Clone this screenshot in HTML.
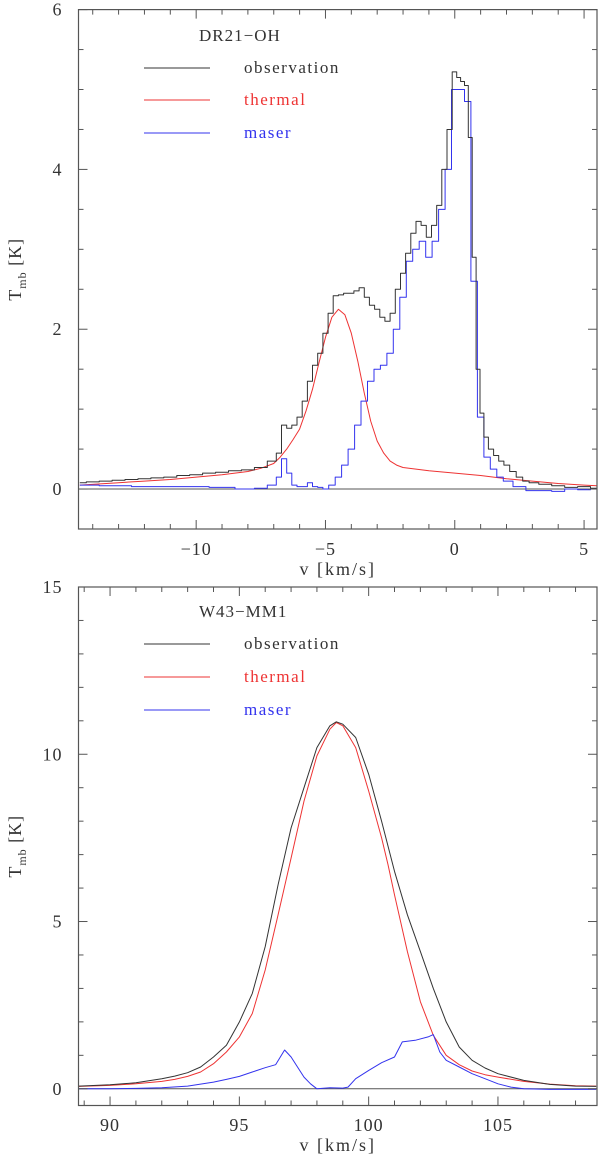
<!DOCTYPE html>
<html><head><meta charset="utf-8"><style>
html,body{margin:0;padding:0;background:#fff;}
svg{display:block;font-family:"Liberation Serif","DejaVu Serif",serif;}
</style></head><body>
<svg id="chart" width="600" height="1155" viewBox="0 0 600 1155" xmlns="http://www.w3.org/2000/svg"></svg>
<script>
// ---------- Top panel data (DR21-OH) ----------
const topObsV = [-14.5,-14,-13.5,-13,-12.5,-12,-11.5,-11,-10.5,-10,-9.5,-9,-8.5,-8,-7.5,-7,-6.8,-6.6,-6.4,-6.2,-6,-5.8,-5.6,-5.4,-5.2,-5,-4.8,-4.6,-4.4,-4.2,-4,-3.8,-3.6,-3.4,-3.2,-3,-2.8,-2.6,-2.4,-2.2,-2,-1.8,-1.6,-1.4,-1.2,-1,-0.8,-0.6,-0.4,-0.2,0,0.15,0.3,0.45,0.6,0.75,0.9,1.05,1.2,1.4,1.6,1.8,2,2.25,2.5,2.75,3,3.5,4,4.5,5,5.5];
const topObsT = [0.08,0.09,0.1,0.11,0.12,0.13,0.14,0.15,0.17,0.18,0.2,0.21,0.23,0.24,0.27,0.35,0.45,0.8,0.76,0.8,0.9,1.1,1.35,1.55,1.7,1.95,2.2,2.42,2.43,2.45,2.45,2.48,2.52,2.4,2.3,2.25,2.15,2.1,2.2,2.5,2.7,2.95,3.2,3.35,3.3,3.15,3.3,3.55,4.0,4.5,5.22,5.15,5.1,5.05,4.4,2.9,1.5,0.95,0.65,0.5,0.42,0.35,0.3,0.22,0.15,0.1,0.08,0.06,0.04,0.02,0.03,0.01];
const topThV = [-14.5,-13,-12,-11,-10,-9,-8,-7.5,-7,-6.75,-6.5,-6.25,-6,-5.75,-5.5,-5.25,-5,-4.75,-4.5,-4.25,-4,-3.75,-3.5,-3.25,-3,-2.75,-2.5,-2.25,-2,-1.5,-1,0,1,2,3,4,5,5.5];
const topThT = [0.05,0.08,0.1,0.12,0.15,0.18,0.22,0.26,0.32,0.4,0.5,0.62,0.75,0.98,1.25,1.58,1.9,2.15,2.25,2.18,1.95,1.6,1.2,0.85,0.6,0.45,0.35,0.3,0.27,0.25,0.23,0.2,0.17,0.13,0.1,0.07,0.05,0.04];
const topMasV = [-14.5,-13,-12,-11,-10,-9,-8,-7.5,-7,-6.8,-6.6,-6.4,-6.2,-6,-5.8,-5.6,-5.4,-5.2,-5,-4.75,-4.5,-4.25,-4,-3.75,-3.5,-3.25,-3,-2.75,-2.5,-2.25,-2,-1.75,-1.5,-1.25,-1,-0.75,-0.5,-0.25,0,0.25,0.5,0.75,1,1.25,1.5,1.75,2,2.5,3,3.5,4,4.5,5,5.5];
const topMasT = [0.05,0.04,0.03,0.03,0.03,0.02,0.0,0.01,0.05,0.15,0.38,0.2,0.05,0.03,0.03,0.08,0.03,0.02,0.0,0.05,0.15,0.3,0.5,0.8,1.1,1.35,1.5,1.55,1.7,2.0,2.4,2.85,3.0,3.1,2.9,3.1,3.5,4.0,5.0,5.0,4.85,2.6,0.9,0.4,0.25,0.15,0.1,0.03,-0.02,-0.02,-0.03,0.0,-0.01,0.0];
const topXTicks = [-10,-5,0,5];
const topYTicks = [0,2,4,6];

// ---------- Bottom panel data (W43-MM1) ----------
const botObsV = [88.8,90,91,91.5,92,92.5,93,93.5,94,94.5,95,95.5,96,96.5,97,97.5,98,98.5,98.75,99,99.5,100,100.5,101,101.5,102,102.5,103,103.5,104,104.5,105,106,107,108,108.8];
const botObsT = [0.08,0.12,0.18,0.24,0.3,0.38,0.48,0.65,0.95,1.3,2.0,2.85,4.25,6.1,7.8,9.0,10.2,10.85,10.97,10.9,10.5,9.4,8.0,6.5,5.2,4.1,3.0,2.0,1.25,0.85,0.62,0.45,0.25,0.13,0.08,0.07];
const botThV = [88.8,90,91,92,92.5,93,93.5,94,94.5,95,95.5,96,96.5,97,97.5,98,98.5,98.75,99,99.5,100,100.5,100.75,101,101.5,102,102.5,103,103.5,104,104.5,105,106,107,108,108.8];
const botThT = [0.07,0.1,0.15,0.22,0.28,0.37,0.5,0.75,1.1,1.55,2.25,3.55,5.2,6.9,8.6,9.95,10.75,10.95,10.85,10.2,8.9,7.5,6.7,5.8,4.1,2.6,1.6,1.0,0.72,0.53,0.42,0.35,0.22,0.14,0.09,0.08];
const botMasV = [88.8,90,91,92,93,94,94.5,95,95.5,96,96.4,96.75,97,97.25,97.5,97.75,98,98.5,99,99.2,99.5,100,100.5,101,101.3,101.8,102.3,102.5,102.75,103,103.5,104,104.5,105,105.5,106,107,108,108.8];
const botMasT = [0.0,0.0,0.01,0.03,0.08,0.2,0.28,0.37,0.5,0.63,0.72,1.16,0.95,0.65,0.35,0.15,0.0,0.03,0.02,0.05,0.3,0.55,0.78,0.95,1.4,1.45,1.55,1.62,1.1,0.85,0.65,0.45,0.3,0.15,0.05,0.0,-0.02,-0.02,-0.02];
const botXTicks = [90,95,100,105];
const botYTicks = [0,5,10,15];

const NS = "http://www.w3.org/2000/svg";
const svg = document.getElementById('chart');
function mk(tag, attrs, parent){
  const e = document.createElementNS(NS, tag);
  for (const k in attrs) e.setAttribute(k, attrs[k]);
  (parent||svg).appendChild(e);
  return e;
}

function panel(cfg){
  const g = mk('g', {});
  
  
  const L=78.5, R=597, T=cfg.top, B=cfg.bottom;
  const xs = v => L + (v - cfg.xmin) / (cfg.xmax - cfg.xmin) * (R - L);
  const ys = t => B - (t - cfg.ymin) / (cfg.ymax - cfg.ymin) * (B - T);
  const zl = mk('line', {x1:L, x2:R, y1:ys(0), y2:ys(0), stroke:'#555', 'stroke-width':1}, g);
  
  
  function stepPath(V, Tm){
    let d = '';
    for (let i=0;i<V.length;i++){
      const a = i===0 ? V[0] : (V[i-1]+V[i])/2;
      const b = i===V.length-1 ? V[i] : (V[i]+V[i+1])/2;
      d += (i===0?'M':'L') + xs(a).toFixed(1)+','+ys(Tm[i]).toFixed(1)+'L'+xs(b).toFixed(1)+','+ys(Tm[i]).toFixed(1);
    }
    return d;
  }
  function linePath(V, Tm){
    return V.map((v,i)=>(i?'L':'M')+xs(v).toFixed(1)+','+ys(Tm[i]).toFixed(1)).join('');
  }
  const clip = mk('clipPath', {id:cfg.name+'-clip'}, g);
  mk('rect', {x:L, y:T, width:R-L, height:B-T}, clip);
  cfg.series.forEach(s=>{
    const p = mk('path', {d: s.step ? stepPath(s.v, s.t) : linePath(s.v, s.t), fill:'none', stroke:s.color, 'stroke-width':1, 'stroke-linejoin':'round', 'clip-path':'url(#'+cfg.name+'-clip)'}, g);
    
    
  });
  const fr = mk('rect', {x:L, y:T, width:R-L, height:B-T, fill:'none', stroke:'#555', 'stroke-width':1.2}, g);
  
  
  for (let v=Math.ceil(cfg.xmin); v<=cfg.xmax; v+=1){
    const major = v % cfg.xMajor === 0;
    const len = major ? 9 : 5;
    mk('line', {x1:xs(v), x2:xs(v), y1:B, y2:B-len, stroke:'#555'}, g);
    mk('line', {x1:xs(v), x2:xs(v), y1:T, y2:T+len, stroke:'#555'}, g);
  }
  for (let t=Math.ceil(cfg.ymin/cfg.yMinor)*cfg.yMinor; t<=cfg.ymax+1e-9; t+=cfg.yMinor){
    const tt = Math.round(t*1000)/1000;
    const major = Math.abs(tt/cfg.yMajor - Math.round(tt/cfg.yMajor))<1e-6;
    const len = major ? 9 : 5;
    mk('line', {x1:L, x2:L+len, y1:ys(tt), y2:ys(tt), stroke:'#555'}, g);
    mk('line', {x1:R, x2:R-len, y1:ys(tt), y2:ys(tt), stroke:'#555'}, g);
  }
  cfg.xTicks.forEach(v=>{
    const t = mk('text', {x:xs(v), y:cfg.xLabelY, 'text-anchor':'middle', 'font-size':18, fill:'#333', 'letter-spacing':'1'}, g);
    t.textContent = v<0 ? '\u2212'+(-v) : String(v);
    
    
  });
  cfg.yTicks.forEach(v=>{
    const t = mk('text', {x:L-16, y:ys(v)+6, 'text-anchor':'end', 'font-size':18, fill:'#333', 'letter-spacing':'1'}, g);
    t.textContent = String(v);
    
    
  });
  const xt = mk('text', {x:(L+R)/2, y:cfg.xTitleY, 'text-anchor':'middle', 'font-size':18, fill:'#333', 'letter-spacing':'2'}, g);
  xt.textContent = 'v [km/s]';
  
  
  const cy = (T+B)/2;
  const yt = mk('text', {x:0, y:0, 'text-anchor':'middle', 'font-size':18, fill:'#333', 'letter-spacing':'1', transform:'translate(21,'+cy+') rotate(-90)'}, g);
  yt.innerHTML = 'T<tspan font-size="12" dy="5">mb</tspan><tspan dy="-5"> [K]</tspan>';
  
  
  const sn = mk('text', {x:199, y:cfg.legY[0], 'font-size':17, fill:'#333', 'letter-spacing':'1'}, g);
  sn.textContent = cfg.title;
  
  
  const names = ['observation','thermal','maser'];
  const cols = ['#333','#e33','#33e'];
  for (let i=0;i<3;i++){
    const y = cfg.legY[i+1];
    const le = mk('g', {}, g);
    
    
    mk('line', {x1:144, x2:210, y1:y, y2:y, stroke:cols[i], 'stroke-width':1}, le);
    const tx = mk('text', {x:244, y:y+5, 'font-size':17, fill:cols[i], 'letter-spacing':'1.5'}, le);
    tx.textContent = names[i];
  }
}

panel({name:'dr21-oh-panel', title:'DR21\u2212OH', top:9.6, bottom:529, xmin:-14.55, xmax:5.5, ymin:-0.5, ymax:6,
  xMajor:5, yMinor:0.5, yMajor:2, xTicks:topXTicks, yTicks:topYTicks, xLabelY:555, xTitleY:575,
  legY:[41,68,100,133],
  series:[
    {id:'thermal-series', v:topThV, t:topThT, color:'#e33', step:false},
    {id:'maser-series', v:topMasV, t:topMasT, color:'#33e', step:true},
    {id:'observation-series', v:topObsV, t:topObsT, color:'#333', step:true}
  ]});
panel({name:'w43-mm1-panel', title:'W43\u2212MM1', top:587, bottom:1105.5, xmin:88.78, xmax:108.83, ymin:-0.5, ymax:15,
  xMajor:5, yMinor:1, yMajor:5, xTicks:botXTicks, yTicks:botYTicks, xLabelY:1131, xTitleY:1151,
  legY:[617,644,677,710],
  series:[
    {id:'thermal-series', v:botThV, t:botThT, color:'#e33', step:false},
    {id:'maser-series', v:botMasV, t:botMasT, color:'#33e', step:false},
    {id:'observation-series', v:botObsV, t:botObsT, color:'#333', step:false}
  ]});
</script>
</body></html>
